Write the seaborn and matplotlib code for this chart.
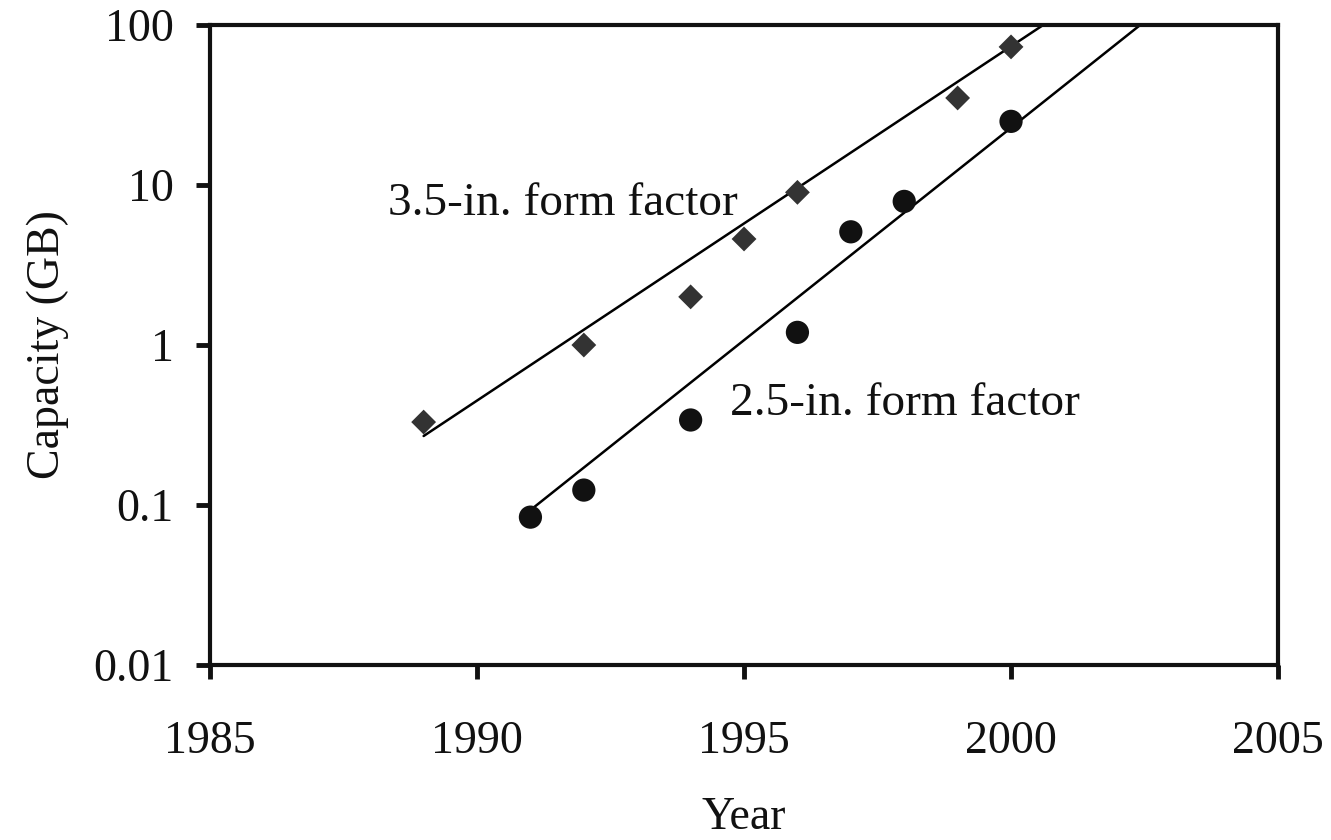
import numpy as np
import pandas as pd
import matplotlib
matplotlib.use("Agg")
import matplotlib.pyplot as plt
import seaborn as sns

# data
years_35 = [1989, 1992, 1994, 1995, 1996, 1999, 2000]
capacity_35 = [0.33, 1.0, 2.0, 4.6, 9.0, 35, 73]
years_25 = [1991, 1992, 1994, 1996, 1997, 1998, 2000]
capacity_25 = [0.084, 0.124, 0.34, 1.2, 5.1, 7.9, 25]

# trend lines (start point and a point past the top of the axes)
trend_years_35 = [1989, 2002]
trend_capacity_35 = [0.27, 204]
trend_years_25 = [1991, 2004]
trend_capacity_25 = [0.093, 263]

y_ticks = [0.01, 0.1, 1, 10, 100]
y_tick_labels = ["0.01", "0.1", "1", "10", "100"]
x_ticks = [1985, 1990, 1995, 2000, 2005]

sns.set_style("ticks", {"text.color": "#111111", "axes.labelcolor": "#111111",
                        "xtick.color": "#111111", "ytick.color": "#111111"})
plt.rcParams["font.family"] = ["Liberation Serif", "DejaVu Serif"]

df35 = pd.DataFrame({"year": years_35, "capacity": capacity_35})
df25 = pd.DataFrame({"year": years_25, "capacity": capacity_25})
tr35 = pd.DataFrame({"year": trend_years_35, "capacity": trend_capacity_35})
tr25 = pd.DataFrame({"year": trend_years_25, "capacity": trend_capacity_25})

fig = plt.figure(figsize=(13.31, 8.4), dpi=100)
ax = fig.add_axes([0.1578, 0.2083, 0.8024, 0.7619])

sns.lineplot(data=tr35, x="year", y="capacity", color="black", linewidth=1.8, ax=ax)
sns.lineplot(data=tr25, x="year", y="capacity", color="black", linewidth=1.8, ax=ax)
sns.scatterplot(data=df35, x="year", y="capacity", marker="D", s=160,
                color="#333333", edgecolor="none", ax=ax, zorder=3)
sns.scatterplot(data=df25, x="year", y="capacity", marker="o", s=280,
                color="#111111", edgecolor="none", ax=ax, zorder=3)

ax.set_yscale("log")
ax.set_ylim(0.01, 100)
ax.set_xlim(1985, 2005)
ax.set_yticks(y_ticks)
ax.set_yticklabels(y_tick_labels)
ax.set_xticks(x_ticks)
ax.minorticks_off()

ax.tick_params(axis="both", labelsize=33, width=3.5, length=10, color="#111111",
               labelcolor="#111111", direction="out")
ax.tick_params(axis="y", pad=16)
ax.tick_params(axis="x", pad=30)
for side in ["left", "right", "top", "bottom"]:
    ax.spines[side].set_visible(True)
    ax.spines[side].set_linewidth(3)
    ax.spines[side].set_color("#111111")

ax.set_xlabel("Year", fontsize=33, labelpad=24, color="#111111")
ax.set_ylabel("Capacity (GB)", fontsize=33, labelpad=18, color="#111111")

ax.text(1988.33, 6.5, "3.5-in. form factor", fontsize=34, ha="left",
        va="baseline", color="#111111")
ax.text(1994.73, 0.365, "2.5-in. form factor", fontsize=34, ha="left",
        va="baseline", color="#111111")

fig.savefig("out.png", dpi=100)
